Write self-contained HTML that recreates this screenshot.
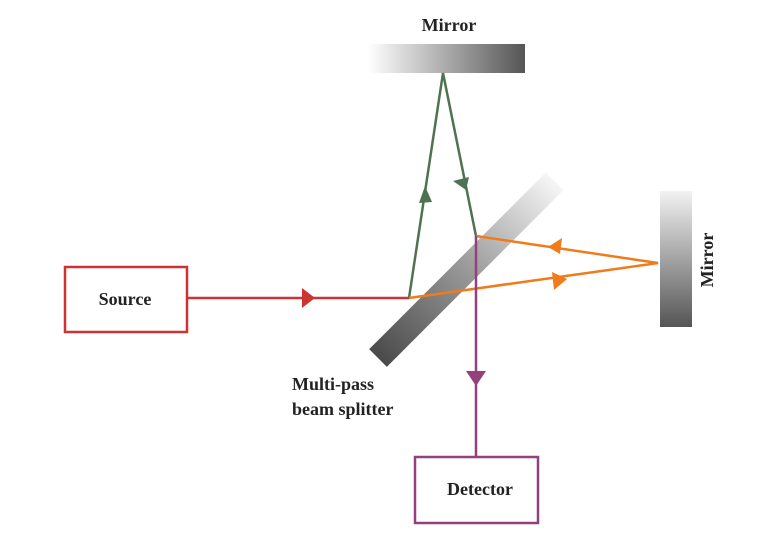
<!DOCTYPE html>
<html><head><meta charset="utf-8"><style>html,body{margin:0;padding:0;background:#fff;}svg{display:block}</style></head>
<body>
<svg width="773" height="533" viewBox="0 0 773 533" xmlns="http://www.w3.org/2000/svg" font-family="'Liberation Serif',serif" font-weight="bold" font-size="18" fill="#222">
<defs>
<linearGradient id="gt" x1="0" y1="0" x2="1" y2="0"><stop offset="0" stop-color="#fff"/><stop offset="1" stop-color="#555"/></linearGradient>
<linearGradient id="gr" x1="0" y1="0" x2="0" y2="1"><stop offset="0" stop-color="#f2f2f2"/><stop offset="1" stop-color="#555"/></linearGradient>
<linearGradient id="gb" x1="0" y1="0" x2="1" y2="0"><stop offset="0" stop-color="#4a4a4a"/><stop offset="0.5" stop-color="#999"/><stop offset="1" stop-color="#f6f6f6"/></linearGradient>
</defs>
<text x="449" y="31" text-anchor="middle">Mirror</text>
<rect x="368" y="44" width="157" height="29" fill="url(#gt)"/>
<rect x="660" y="191" width="32" height="136" fill="url(#gr)"/>
<text transform="translate(713,260) rotate(-90)" text-anchor="middle">Mirror</text>
<g transform="translate(378,358) rotate(-45)"><rect x="0" y="-12.5" width="250" height="25" fill="url(#gb)"/></g>
<rect x="65" y="267" width="122" height="65" fill="none" stroke="#cc3333" stroke-width="2.5"/>
<text x="125" y="305" text-anchor="middle">Source</text>
<line x1="187" y1="298" x2="409" y2="298" stroke="#cc3333" stroke-width="2.5"/>
<polygon points="302,288 315,298 302,308" fill="#cc3333"/>
<polyline points="409,298 443,73 476,236" fill="none" stroke="#4e7350" stroke-width="2.5"/>
<polygon points="425,186 419,203 432,202" fill="#4e7350"/>
<polygon points="466,190 453,181 469,177" fill="#4e7350"/>
<polyline points="409,298 658,263 476,236" fill="none" stroke="#f07b1a" stroke-width="2.5"/>
<polygon points="567,279 552,272 554,290" fill="#f07b1a"/>
<polygon points="548,247 562,238 560,254" fill="#f07b1a"/>
<line x1="476" y1="236" x2="476" y2="457" stroke="#94407f" stroke-width="2.5"/>
<polygon points="466,371 486,371 476,386" fill="#94407f"/>
<rect x="415" y="457" width="123" height="66" fill="none" stroke="#94407f" stroke-width="2.5"/>
<text x="480" y="495" text-anchor="middle">Detector</text>
<text x="292" y="390">Multi-pass</text>
<text x="292" y="415">beam splitter</text>
</svg>
</body></html>
